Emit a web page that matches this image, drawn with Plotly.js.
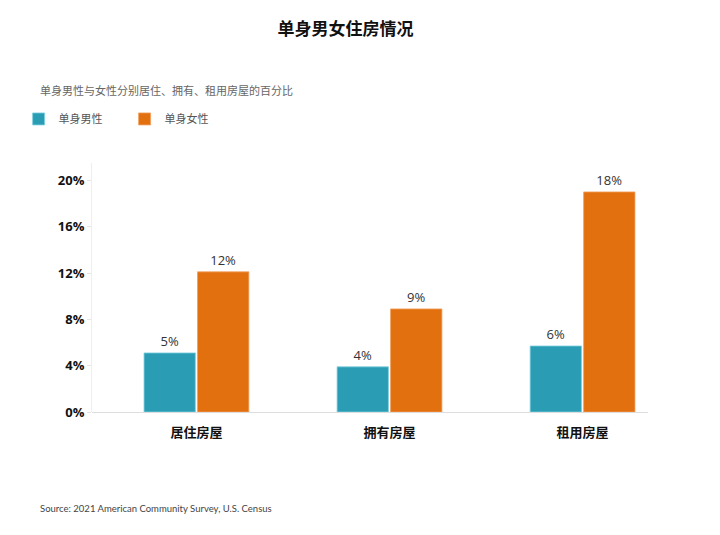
<!DOCTYPE html>
<html>
<head>
<meta charset="utf-8">
<script src="https://cdn.plot.ly/plotly-3.0.1.min.js"></script>
<style>html,body{margin:0;padding:0;background:#fff;}#chart{width:720px;height:535px;}</style>
</head>
<body>
<div id="chart"></div>
<script>
const categories = ["居住房屋", "拥有房屋", "租用房屋"];
const seriesNames = ["单身男性", "单身女性"];
const maleValues = [5.1, 3.9, 5.7];
const femaleValues = [12.1, 8.9, 19.0];
const maleLabels = ["5%", "4%", "6%"];
const femaleLabels = ["12%", "9%", "18%"];
const tickValues = [0, 4, 8, 12, 16, 20];
const tickLabels = ["0%", "4%", "8%", "12%", "16%", "20%"];

const FONT = '"Open Sans", "Noto Sans CJK SC", sans-serif';
const CJK = '"Noto Sans CJK SC", "Open Sans", sans-serif';

const traces = [
  {
    type: 'bar', name: seriesNames[0], x: categories, y: maleValues,
    text: maleLabels, textposition: 'outside', cliponaxis: false,
    textfont: {family: FONT, size: 13, color: '#333'},
    marker: {color: '#2a9db5', line: {color: '#7fd0e0', width: 0.8}},
    hoverinfo: 'skip'
  },
  {
    type: 'bar', name: seriesNames[1], x: categories, y: femaleValues,
    text: femaleLabels, textposition: 'outside', cliponaxis: false,
    textfont: {family: FONT, size: 13, color: '#333'},
    marker: {color: '#e3700f', line: {color: '#f0a060', width: 0.8}},
    hoverinfo: 'skip'
  }
];

const layout = {
  width: 720, height: 535,
  margin: {l: 92, r: 72, t: 163, b: 123},
  paper_bgcolor: '#fff', plot_bgcolor: '#fff',
  font: {family: FONT, color: '#222'},
  title: {text: '<b>单身男女住房情况</b>', font: {family: CJK, size: 17, color: '#111'},
          x: 0.48, xanchor: 'center', y: 0.945, yanchor: 'middle'},
  barmode: 'group', bargap: 0.446, bargroupgap: 0.04,
  showlegend: true,
  legend: {orientation: 'h', x: -0.132, xanchor: 'left', y: 1.177, yanchor: 'middle',
           font: {family: CJK, size: 11, color: '#555'},
           entrywidth: 61, entrywidthmode: 'pixels', itemwidth: 30,
           traceorder: 'normal', bgcolor: 'rgba(0,0,0,0)'},
  xaxis: {type: 'category', range: [-0.541, 2.339], showgrid: false, zeroline: false,
          showline: false, ticks: '', fixedrange: true, ticklabelstandoff: 11,
          tickfont: {family: CJK, size: 13, color: '#111', weight: 'bold'}},
  yaxis: {range: [0, 21.5], tickvals: tickValues, ticktext: tickLabels,
          showgrid: false, zeroline: true, zerolinecolor: '#dddddd', zerolinewidth: 1,
          showline: true, linecolor: '#eeeeee', linewidth: 1,
          ticks: 'outside', ticklen: 4, tickcolor: '#e5e5e5',
          tickfont: {family: FONT, size: 13, color: '#111', weight: 'bold'}},
  annotations: [
    {text: '单身男性与女性分别居住、拥有、租用房屋的百分比', xref: 'paper', yref: 'paper',
     x: -0.097, xanchor: 'left', y: (412 - 90) / 249, yanchor: 'middle', showarrow: false,
     font: {family: CJK, size: 11, color: '#666'}},
    {text: 'Source: 2021 American Community Survey, U.S. Census', xref: 'paper', yref: 'paper',
     x: -0.097, xanchor: 'left', y: (412 - 508) / 249, yanchor: 'middle', showarrow: false,
     font: {family: 'Lato, "Open Sans", sans-serif', size: 9.5, color: '#444'}}
  ]
};

Plotly.newPlot('chart', traces, layout, {displayModeBar: false, staticPlot: true});
</script>
</body>
</html>
